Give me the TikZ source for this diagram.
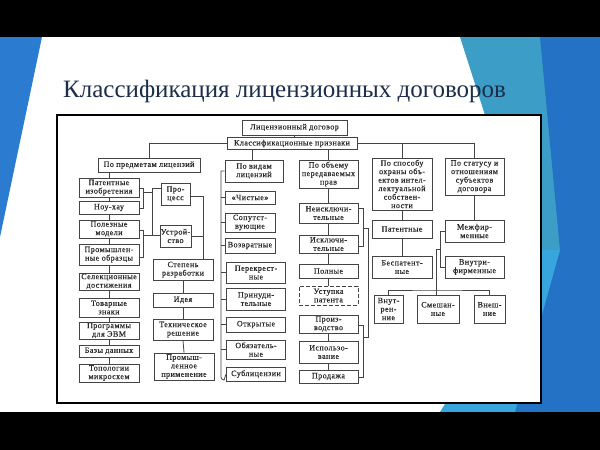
\documentclass[tikz,border=0pt]{standalone}
\usepackage{fontspec}
\setmainfont{Liberation Serif}
\newfontfamily\dfont[LetterSpace=5,FakeBold=0.3]{Liberation Serif}
\definecolor{txtc}{HTML}{2A2A2A}
\definecolor{boxc}{HTML}{444444}
\definecolor{titc}{HTML}{1C2E4A}
\definecolor{bl1}{HTML}{2B7BD0}
\definecolor{tealc}{HTML}{3C9EC6}
\definecolor{bl2}{HTML}{2372C6}
\definecolor{bl3}{HTML}{36A6DC}
\begin{document}
\begin{tikzpicture}[x=1pt,y=-1pt,
  bx/.style={draw=boxc, line width=0.8pt, fill=white, inner sep=0pt, align=center,
    font=\dfont\fontsize{8.1}{8.5}\selectfont, text=txtc},
  dbx/.style={bx, dashed, dash pattern=on 4pt off 2pt, line width=1pt},
  ln/.style={draw=boxc, line width=0.8pt}]
\useasboundingbox (0,0) rectangle (600,450);
% background
\fill[white] (0,0) rectangle (600,450);
\fill[bl1] (0,37) -- (42,37) -- (0,237) -- cycle;
\fill[tealc] (460,37) -- (600,37) -- (600,412) -- (580,412) -- cycle;
\fill[bl2] (540,37) -- (600,37) -- (600,412) -- (505,412) -- (560,250) -- cycle;
\fill[bl3] (440,412) -- (515,412) -- (560,250) -- (541,250) -- cycle;
\fill[black] (0,0) rectangle (600,37);
\fill[black] (0,412) rectangle (600,450);
\node[anchor=base west, inner sep=0pt, text=titc, font=\fontsize{25}{25}\selectfont] (title) at (63,97) {Классификация лицензионных договоров};
% frame
\draw[line width=1.5pt, fill=white] (57,115) rectangle (541,403);

% top
\node[bx, minimum width=105pt, minimum height=15pt] (lic) at (294.5,127.5) {Лицензионный договор};
\node[bx, minimum width=130pt, minimum height=12pt] (klass) at (292,143.5) {Классификационные признаки};

% column 1
\node[bx, minimum width=102pt, minimum height=14pt] (predm) at (149,165) {По предметам лицензий};
\node[bx, minimum width=60pt, minimum height=19pt] (pat) at (109,187.5) {Патентные\\изобретения};
\node[bx, minimum width=60pt, minimum height=13pt] (nou) at (109,207.5) {Ноу-хау};
\node[bx, minimum width=60pt, minimum height=18pt] (pol) at (109,229) {Полезные\\модели};
\node[bx, minimum width=60pt, minimum height=21pt] (prom) at (109,254.5) {Промышлен-\\ные образцы};
\node[bx, minimum width=60pt, minimum height=17pt] (sel) at (109,281.5) {Селекционные\\достижения};
\node[bx, minimum width=60pt, minimum height=19pt] (tov) at (109,307.5) {Товарные\\знаки};
\node[bx, minimum width=60pt, minimum height=17pt] (prog) at (109,330.5) {Программы\\для ЭВМ};
\node[bx, minimum width=60pt, minimum height=12pt] (baz) at (109,351) {Базы данных};
\node[bx, minimum width=60pt, minimum height=18pt] (topo) at (109,373) {Топологии\\микросхем};

\node[bx, minimum width=29pt, minimum height=22pt] (proc) at (175.5,194) {Про-\\цесс};
\node[bx, minimum width=31pt, minimum height=22pt] (ustr) at (175.5,236) {Устрой-\\ство};

\node[bx, minimum width=60pt, minimum height=21pt] (step) at (183,269.5) {Степень\\разработки};
\node[bx, minimum width=60pt, minimum height=14pt] (idea) at (183,300) {Идея};
\node[bx, minimum width=60pt, minimum height=21pt] (tech) at (183,329.5) {Техническое\\решение};
\node[bx, minimum width=60pt, minimum height=27pt] (prim) at (184,366.5) {Промыш-\\ленное\\применение};

% column 2
\node[bx, minimum width=58pt, minimum height=22pt] (vid) at (254,171) {По видам\\лицензий};
\node[bx, minimum width=50pt, minimum height=13pt] (chist) at (250,197.5) {«Чистые»};
\node[bx, minimum width=50pt, minimum height=19pt] (sop) at (250,222.5) {Сопутст-\\вующие};
\node[bx, minimum width=50pt, minimum height=15pt] (vozv) at (250,245.5) {Возвратные};
\node[bx, minimum width=59pt, minimum height=21pt] (perek) at (256,272.5) {Перекрест-\\ные};
\node[bx, minimum width=59pt, minimum height=22pt] (prin) at (256,299) {Принуди-\\тельные};
\node[bx, minimum width=59pt, minimum height=15pt] (otkr) at (256,324.5) {Открытые};
\node[bx, minimum width=59pt, minimum height=19pt] (obyaz) at (256,349.5) {Обязатель-\\ные};
\node[bx, minimum width=59pt, minimum height=14pt] (subl) at (256,374) {Сублицензии};

% column 3
\node[bx, minimum width=59pt, minimum height=28pt] (obem) at (328.5,174) {По объему\\передаваемых\\прав};
\node[bx, minimum width=59pt, minimum height=20pt] (neis) at (328.5,213) {Неисключи-\\тельные};
\node[bx, minimum width=59pt, minimum height=18pt] (iskl) at (328.5,244) {Исключи-\\тельные};
\node[bx, minimum width=59pt, minimum height=14pt] (poln) at (328.5,271) {Полные};
\node[dbx, minimum width=59pt, minimum height=19pt] (ustup) at (328.5,295.5) {Уступка\\патента};
\node[bx, minimum width=59pt, minimum height=18pt] (proiz) at (328.5,324) {Произ-\\водство};
\node[bx, minimum width=59pt, minimum height=22pt] (ispol) at (328.5,352) {Использо-\\вание};
\node[bx, minimum width=59pt, minimum height=13pt] (prod) at (328.5,376.5) {Продажа};

% column 4
\node[bx, minimum width=60pt, minimum height=52pt] (spos) at (402,184) {По способу\\охраны объ-\\ектов интел-\\лектуальной\\собствен-\\ности};
\node[bx, minimum width=60pt, minimum height=18pt] (patn) at (402,229) {Патентные};
\node[bx, minimum width=60pt, minimum height=22pt] (besp) at (402,267) {Беспатент-\\ные};
\node[bx, minimum width=59pt, minimum height=37pt] (stat) at (474.5,176.5) {По статусу и\\отношениям\\субъектов\\договора};
\node[bx, minimum width=59pt, minimum height=22pt] (mezh) at (474.5,231) {Межфир-\\менные};
\node[bx, minimum width=59pt, minimum height=22pt] (vnf) at (474.5,267) {Внутри-\\фирменные};
\node[bx, minimum width=29pt, minimum height=28pt] (vnutr) at (388.5,309) {Внут-\\рен-\\ние};
\node[bx, minimum width=42pt, minimum height=28pt] (smesh) at (438,309) {Смешан-\\ные};
\node[bx, minimum width=31pt, minimum height=28pt] (vnesh) at (489.5,309) {Внеш-\\ние};

% connectors
\draw[ln] (lic.south) -- (lic.south |- klass.north);
\draw[ln] (predm.north) |- (klass.west);
\draw[ln] (klass.east) -| (stat.north);
\draw[ln] (spos.north) -- (spos.north |- klass.east);
\draw[ln] (252,0 |- vid.north) -- (252,0 |- klass.south);
\draw[ln] (obem.north) -- (obem.north |- klass.south);

\foreach \a/\b in {pat/nou,nou/pol,pol/prom,prom/sel,sel/tov,tov/prog,prog/baz,baz/topo}
  \draw[ln] (\a.south) -- (\b.north);
\draw[ln] (pat.north) -- (pat.north |- predm.south);

\coordinate (b1) at (143,0);
\coordinate (b2) at (152,0);
\draw[ln] (pat.east |- 0,188) -| (b1 |- 0,208) -- (nou.east |- 0,208);
\draw[ln] (b1 |- 0,192) -- (b2 |- 0,192);
\draw[ln] (proc.west |- 0,188) -| (b2 |- 0,235) -- (ustr.west |- 0,235);
\draw[ln] (pol.east |- 0,230) -| (b1 |- 0,257) -- (prom.east |- 0,257);
\draw[ln] (b1 |- 0,235) -- (b2 |- 0,235);
\coordinate (b3) at (203,0);
\draw[ln] (proc.east |- 0,196) -| (b3 |- step.north);
\draw[ln] (ustr.east |- 0,236) -- (b3 |- 0,236);

\foreach \a/\b in {step/idea,idea/tech,tech/prim}
  \draw[ln] (\a.south) -- (\b.north);

\coordinate (v1) at (221,0);
\draw[ln] (vid.west) -- (v1 |- vid.west) -- ([yshift=-3pt]v1 |- subl.west) arc[start angle=180,end angle=270,radius=3pt] -- (subl.west);
\foreach \n in {chist,sop,vozv,perek,prin,otkr,obyaz}
  \draw[ln] (v1 |- \n.west) -- (\n.west);

\foreach \a/\b in {obem/neis,neis/iskl,iskl/poln,poln/ustup,proiz/ispol,ispol/prod}
  \draw[ln] (\a.south) -- (\b.north);
\coordinate (r1) at (363,0);
\coordinate (r2) at (368,0);
\draw[ln] (neis.east |- 0,208) -| (r1 |- 0,246) -- (iskl.east |- 0,246);
\draw[ln] (r1 |- 0,228) -| (r2 |- 0,337) -- (r1 |- 0,337);
\draw[ln] (proiz.east |- 0,325) -| (r1 |- 0,377) -- (prod.east |- 0,377);

\draw[ln] (spos.south) -- (patn.north);
\draw[ln] (patn.south) -- (besp.north);
\draw[ln] (stat.south) -- (mezh.north);
\coordinate (s1) at (440,0);
\coordinate (s2) at (436,0);
\draw[ln] (mezh.west |- 0,231) -| (s1 |- 0,267) -- (vnf.west |- 0,267);
\draw[ln] (s1 |- 0,249) -- (s2 |- 0,249) -- (s2 |- smesh.north);
\draw[ln] (vnutr.north) |- (s2 |- 0,290) -| (vnesh.north);
\end{tikzpicture}
\end{document}
